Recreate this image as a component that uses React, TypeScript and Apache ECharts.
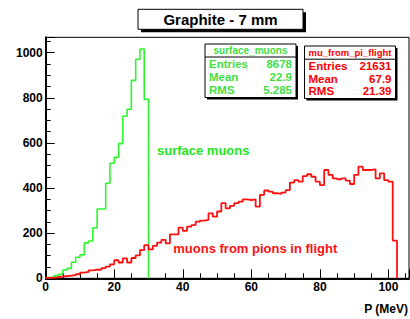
import React, { useEffect, useRef } from "react";
import * as echarts from "echarts";

const BIN_WIDTH = 1.25;
const X_MAX = 106;
const Y_MAX = 1068;
const X_TICKS = [0, 20, 40, 60, 80, 100];
const Y_TICKS = [0, 200, 400, 600, 800, 1000];

// surface_muons histogram (bins of 1.25 MeV from 0)
const surfaceMuons = [
  3, 6, 12, 18, 37, 44, 71, 93, 104, 157, 165, 224, 307, 307, 421, 510, 536,
  597, 718, 749, 877, 971, 1016, 793,
];

// mu_from_pi_flight histogram (bins of 1.25 MeV from 0)
const muFromPiFlight = [
  2, 2, 5, 8, 10, 12, 14, 18, 25, 28, 35, 38, 38, 45, 52, 62, 80, 70, 88, 70,
  90, 102, 125, 147, 128, 144, 158, 170, 155, 195, 195, 225, 210, 229, 236,
  251, 256, 259, 288, 273, 296, 333, 310, 321, 333, 340, 350, 347, 350, 318,
  370, 389, 384, 377, 374, 380, 391, 424, 435, 428, 453, 461, 450, 428, 413,
  480, 458, 443, 439, 443, 433, 418, 458, 495, 480, 480, 483, 443, 465, 435,
  428, 167,
];

const statsGreen = { name: "surface_muons", entries: "8678", mean: "22.9", rms: "5.285" };
const statsRed = { name: "mu_from_pi_flight", entries: "21631", mean: "67.9", rms: "21.39" };

const TITLE = "Graphite - 7 mm";
const X_TITLE = "P (MeV)";
const LABEL_GREEN = "surface muons";
const LABEL_RED = "muons from pions in flight";

function histPoints(counts: number[]): number[][] {
  const pts: number[][] = counts.map((v, k) => [k * BIN_WIDTH, v]);
  pts.push([counts.length * BIN_WIDTH, 0]);
  return pts;
}

const FONT = '"Liberation Sans", Arial, Helvetica, sans-serif';

function statsBox(
  s: { name: string; entries: string; mean: string; rms: string },
  x: number,
  y: number,
  w: number,
  h: number,
  sepY: number,
  headerY: number,
  rows: number[],
  color: string,
  headerSize: number
) {
  const children: any[] = [
    { type: "rect", shape: { x: x + 2, y: y + 2, width: w, height: h }, style: { fill: "#000" } },
    { type: "rect", shape: { x, y, width: w, height: h }, style: { fill: "#fff", stroke: "#000", lineWidth: 1 } },
    { type: "line", shape: { x1: x, y1: sepY, x2: x + w, y2: sepY }, style: { stroke: "#000", lineWidth: 1 } },
    {
      type: "text",
      x: x + w / 2,
      y: headerY,
      style: { text: s.name, fill: color, fontSize: headerSize, fontWeight: "bold", fontFamily: FONT, align: "center", verticalAlign: "middle" },
    },
  ];
  const labels = ["Entries", "Mean", "RMS"];
  const vals = [s.entries, s.mean, s.rms];
  labels.forEach((lab, i) => {
    children.push({
      type: "text",
      x: x + 4,
      y: rows[i],
      style: { text: lab, fill: color, fontSize: 11.5, fontWeight: "bold", fontFamily: FONT, align: "left", verticalAlign: "middle" },
    });
    children.push({
      type: "text",
      x: x + w - 4,
      y: rows[i],
      style: { text: vals[i], fill: color, fontSize: 11.5, fontWeight: "bold", fontFamily: FONT, align: "right", verticalAlign: "middle" },
    });
  });
  return { type: "group", children };
}

export default function App() {
  const ref = useRef<HTMLDivElement>(null);
  useEffect(() => {
    document.body.style.margin = "0";
    if (!ref.current) return;
    const chart = echarts.init(ref.current, undefined, { renderer: "svg" });
    const axisCommon = {
      axisLine: { show: true, onZero: false, lineStyle: { color: "#000", width: 2 } },
      axisTick: { show: true, inside: true, length: 9, lineStyle: { color: "#000", width: 1 } },
      minorTick: { show: true, splitNumber: 4, length: 5, lineStyle: { color: "#000", width: 1 } },
      splitLine: { show: false },
      minorSplitLine: { show: false },
      axisLabel: {
        color: "#000",
        fontSize: 12,
        fontWeight: "bold",
        fontFamily: FONT,
        margin: 3,
        showMaxLabel: false,
        formatter: (v: number) => String(v),
      },
    };
    chart.setOption({
      animation: false,
      backgroundColor: "#fff",
      grid: {
        left: 45.7,
        top: 37.3,
        right: 1,
        bottom: 40.7,
        show: true,
        borderColor: "#000",
        borderWidth: 1,
        backgroundColor: "transparent",
      },
      xAxis: {
        type: "value",
        min: 0,
        max: X_MAX,
        interval: X_TICKS[1] - X_TICKS[0],
        ...axisCommon,
      },
      yAxis: {
        type: "value",
        min: 0,
        max: Y_MAX,
        interval: Y_TICKS[1] - Y_TICKS[0],
        ...axisCommon,
      },
      series: [
        {
          type: "line",
          step: "end",
          data: histPoints(surfaceMuons),
          symbol: "none",
          lineStyle: { color: "#2ef52e", width: 1.6 },
          z: 3,
        },
        {
          type: "line",
          step: "end",
          data: histPoints(muFromPiFlight),
          symbol: "none",
          lineStyle: { color: "#ff1010", width: 1.8 },
          z: 4,
        },
      ],
      graphic: [
        { type: "rect", shape: { x: 141, y: 12.3, width: 165, height: 20 }, style: { fill: "#000" } },
        { type: "rect", shape: { x: 138, y: 9.3, width: 165, height: 20 }, style: { fill: "#fff", stroke: "#000", lineWidth: 1 } },
        {
          type: "text",
          x: 220.5,
          y: 19.5,
          style: { text: TITLE, fill: "#000", fontSize: 15, fontWeight: "bold", fontFamily: FONT, align: "center", verticalAlign: "middle" },
        },
        statsBox(statsGreen, 205, 44, 91, 53.5, 57, 50.5, [64.3, 77, 90], "#44dd44", 10),
        statsBox(statsRed, 304.5, 46, 91, 52.5, 59.2, 52.5, [66.2, 78.9, 91.2], "#ff0000", 9.5),
        {
          type: "text",
          x: 157,
          y: 150,
          style: { text: LABEL_GREEN, fill: "#22e622", fontSize: 13, fontWeight: "bold", fontFamily: FONT, align: "left", verticalAlign: "middle" },
        },
        {
          type: "text",
          x: 173.3,
          y: 248,
          style: { text: LABEL_RED, fill: "#ff1010", fontSize: 13, fontWeight: "bold", fontFamily: FONT, align: "left", verticalAlign: "middle" },
        },
        {
          type: "text",
          x: 408,
          y: 308.5,
          style: { text: X_TITLE, fill: "#000", fontSize: 12, fontWeight: "bold", fontFamily: FONT, align: "right", verticalAlign: "middle" },
        },
      ],
    });
    return () => chart.dispose();
  }, []);
  return <div ref={ref} style={{ width: 410, height: 319 }} />;
}
